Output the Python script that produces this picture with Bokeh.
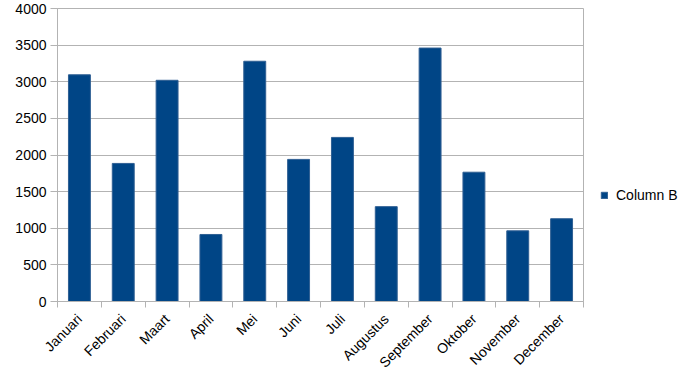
from math import pi
from bokeh.plotting import figure
from bokeh.models import FixedTicker, Legend, LegendItem, Range1d, ColumnDataSource
from bokeh.embed import file_html
from bokeh.resources import INLINE

months = ["Januari", "Februari", "Maart", "April", "Mei", "Juni", "Juli",
          "Augustus", "September", "Oktober", "November", "December"]
values = [3095, 1885, 3020, 915, 3280, 1940, 2240, 1295, 3460, 1765, 965, 1130]
series_name = "Column B"
y_ticks = [0, 500, 1000, 1500, 2000, 2500, 3000, 3500, 4000]

xs = [i + 0.5 for i in range(len(months))]
src = ColumnDataSource(dict(x=xs, top=values, month=months))

p = figure(frame_width=526, frame_height=293, output_backend="svg", toolbar_location=None,
           x_range=Range1d(0, len(months)), y_range=Range1d(0, 4000),
           min_border_left=57, min_border_right=110, min_border_top=8, min_border_bottom=89)
p.background_fill_color = "white"
p.border_fill_color = "white"
p.outline_line_color = "#b3b3b3"

r = p.vbar(x="x", top="top", bottom=0, width=0.5, source=src,
           fill_color="#004586", line_color="#2f5f93", line_width=1)

# x axis: labels at centers, ticks at category boundaries
p.xaxis.ticker = FixedTicker(ticks=xs, minor_ticks=list(range(len(months) + 1)))
p.xaxis.major_label_overrides = {x: m for x, m in zip(xs, months)}
p.xaxis.major_label_orientation = pi / 4
p.xaxis.major_tick_line_color = None
p.xaxis.minor_tick_line_color = "#b3b3b3"
p.xaxis.minor_tick_in = 0
p.xaxis.minor_tick_out = 6
p.xaxis.axis_line_color = "#b3b3b3"
p.xaxis.major_label_text_font = "Liberation Sans"
p.xaxis.major_label_text_font_size = "14px"
p.xaxis.major_label_text_color = "#000000"
p.xaxis.major_label_standoff = 9

p.yaxis.ticker = FixedTicker(ticks=y_ticks)
p.yaxis.minor_tick_line_color = None
p.yaxis.major_tick_line_color = "#b3b3b3"
p.yaxis.major_tick_in = 0
p.yaxis.major_tick_out = 7
p.yaxis.axis_line_color = "#b3b3b3"
p.yaxis.major_label_text_font = "Liberation Sans"
p.yaxis.major_label_text_font_size = "14px"
p.yaxis.major_label_text_color = "#000000"
p.yaxis.major_label_standoff = 4

p.xgrid.grid_line_color = None
p.ygrid.grid_line_color = "#b3b3b3"
p.ygrid.ticker = FixedTicker(ticks=y_ticks)

legend = Legend(items=[LegendItem(label=series_name, renderers=[r])],
                location=(17, 98), border_line_color=None, background_fill_alpha=0,
                glyph_width=8, glyph_height=8, label_standoff=8,
                label_text_font="Liberation Sans", label_text_font_size="14px",
                label_text_color="#000000", padding=4, margin=0)
p.add_layout(legend, "right")

open("out.html", "w").write(file_html(p, INLINE))
